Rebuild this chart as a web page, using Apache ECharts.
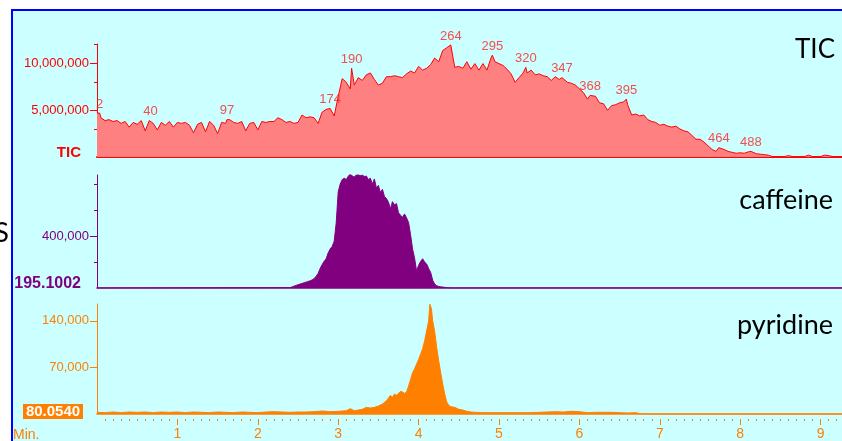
<!DOCTYPE html>
<html><head><meta charset="utf-8">
<script src="https://cdn.jsdelivr.net/npm/echarts@6/dist/echarts.min.js"></script>
<style>html,body{margin:0;padding:0;background:#fff}#c{width:842px;height:441px}</style>
</head><body><div id="c"></div>
<script>
// ---- data ----
// TIC, millions of counts, sampled every 0.05 min starting at 0 min
const ticStart = 0, ticStep = 0.05;
const ticValues = [
 4.7,4.2,3.9,4.0,3.8,3.9,3.6,3.8,3.2,3.7,3.5,3.9,2.8,3.9,3.6,2.9,3.7,3.4,3.8,3.2,
 3.7,3.6,3.7,3.4,2.6,3.5,3.7,2.7,3.8,3.4,2.5,3.7,3.6,4.0,3.7,3.6,3.8,2.8,3.6,3.7,
 2.9,3.8,3.7,3.8,3.8,4.2,4.0,3.7,3.8,3.6,3.7,4.5,4.2,4.3,4.2,3.6,4.8,5.1,5.2,4.4,
 6.5,8.4,8.0,7.3,7.7,8.5,8.2,8.8,9.0,8.3,7.7,7.9,8.6,8.6,8.7,8.6,8.5,8.9,9.2,9.0,
 9.7,9.3,9.5,9.9,10.6,10.2,11.4,11.7,12.0,9.6,9.7,9.5,10.2,9.4,10.0,9.3,10.0,9.3,10.6,10.2,
 10.0,9.8,9.4,8.9,8.0,8.5,9.0,9.0,9.3,8.8,8.9,8.7,8.6,8.2,8.6,8.3,8.3,8.0,7.9,7.7,
 7.3,6.9,6.2,6.4,6.5,5.8,5.7,5.0,5.5,5.6,5.8,5.9,5.6,4.5,4.6,4.4,4.5,4.0,3.8,3.7,
 3.4,3.5,3.3,3.2,3.3,3.0,2.8,2.7,2.3,1.9,1.9,1.6,1.2,0.8,0.6,0.9,0.8,0.6,0.5,0.4,
 0.45,0.4,0.55,0.5,0.35,0.3,0.25,0.2,0.05,0.05,0.05,0.05,0.15,0.05,0.05,0.05,0.05,0.2,0.05,0.05,
 0.05,0.2,0.15,0.05,0.05,0.05
];
// labelled TIC peaks: scan number and height (millions); 60 scans per minute
const scansPerMin = 60;
const peakScans  = [2, 40, 97, 174, 190, 264, 295, 320, 347, 368, 395, 464, 488];
const peakValues = [4.7,3.9,4.0,5.2,9.5,12.0,10.9,9.6,8.5,6.6,6.2,1.0,0.6];
// caffeine (m/z 195.1002), thousands of counts, every 0.025 min from 2.40 min
const cafStart = 2.4, cafStep = 0.025;
const cafValues = [
 3,8,14,20,25,30,35,40,45,50,
 55,62,72,90,112,150,180,205,225,270,
 300,320,360,500,740,800,835,845,835,860,
 878,862,855,870,872,866,870,858,862,835,
 845,800,840,770,790,735,760,705,690,660,
 610,665,640,650,580,560,545,570,540,505,
 410,300,230,130,175,205,225,200,185,150,
 120,60,30,18,12,9,7,5,3,1,
 0
];
// pyridine (m/z 80.0540): [minutes, thousands of counts]
const pyrPoints = [
 [0,2.5],[0.1,2],[0.2,3],[0.3,2],[0.4,3],[0.5,2.5],[0.6,3],[0.7,2],[0.8,3],[0.9,2.5],
 [1.0,3],[1.1,2],[1.2,3],[1.3,2.5],[1.4,2],[1.5,3],[1.6,2.5],[1.7,2],[1.8,3],[1.9,2.5],
 [2.0,2],[2.1,3],[2.2,3.5],[2.3,3],[2.4,2.5],[2.5,3],[2.6,3],[2.7,3.5],[2.8,4.5],[2.9,3.5],
 [3.0,4],[3.1,5],[3.15,8],[3.2,5],[3.25,6],[3.3,7],[3.35,10],[3.4,9],[3.45,10],[3.5,12],
 [3.55,15],[3.6,20],[3.625,24],[3.65,28],[3.675,25],[3.7,30],[3.725,28],[3.75,31],[3.775,34],[3.8,33],
 [3.825,31],[3.85,33],[3.875,42],[3.9,52],[3.925,62],[3.95,68],[3.975,75],[4.0,82],[4.025,90],[4.05,98],
 [4.075,110],[4.1,125],[4.125,140],[4.14,165],[4.16,158],[4.175,140],[4.2,124],[4.225,100],[4.25,80],[4.275,62],
 [4.3,45],[4.325,30],[4.35,18],[4.375,13],[4.4,11],[4.45,10],[4.5,7],[4.55,6],[4.6,4],[4.65,3],
 [4.7,2.5],[4.8,2],[4.9,2],[5.0,2],[5.1,2],[5.2,2],[5.3,2],[5.4,2],[5.5,2.5],[5.6,3],
 [5.7,3.5],[5.8,3],[5.9,4],[6.0,3.5],[6.1,2],[6.2,2.5],[6.3,2.5],[6.4,2.5],[6.5,2],[6.6,1.5],
 [6.7,2],[6.75,0.5],[6.8,0]
];
const timeLabels = [1,2,3,4,5,6,7,8,9];
const ticTicks = [5e6, 10e6], ticMinorTicks = [3e6, 8e6, 12.05e6];
const cafTicks = [400000], cafMinorTicks = [200000, 600000, 800000];
const pyrTicks = [70000, 140000];

// ---- build ----
const XMAX = 9.266;
const RED = '#FF0000', PURPLE = '#800080', ORANGE = '#FF8000';
let ticData = ticValues.map((v, i) => [ticStart + i * ticStep, v * 1e6]);
const peakData = peakScans.map((s, i) => [s / scansPerMin, peakValues[i] * 1e6, s]);
ticData = ticData.concat(peakData.map(p => [p[0], p[1]])).sort((a, b) => a[0] - b[0]);
const cafData = [[0, 0]].concat(cafValues.map((v, i) => [cafStart + i * cafStep, v * 1000]), [[XMAX, 0]]);
const pyrData = pyrPoints.map(p => [p[0], p[1] * 1000]).concat([[XMAX, 0]]);
const minorX = [];
for (let k = 1; k < 93; k++) { if (k % 10) minorX.push(k / 10); }
const fmt = v => Math.round(v).toLocaleString('en-US');
const FONT = 'Liberation Sans';

function yMain(grid, max, ticks, color) {
  return {type:'value', gridIndex:grid, position:'left', min:0, max:max, splitLine:{show:false},
    axisLine:{show:true, lineStyle:{color:color, width:1}},
    axisTick:{show:true, customValues:ticks, length:7, lineStyle:{color:color}},
    axisLabel:{show:true, customValues:ticks, formatter:fmt, color:color, fontSize:13, fontFamily:FONT, margin:8}};
}
function yMinor(grid, max, ticks, color) {
  return {type:'value', gridIndex:grid, position:'left', min:0, max:max, splitLine:{show:false},
    axisLine:{show:false}, axisLabel:{show:false},
    axisTick:{show:true, customValues:ticks, length:3, lineStyle:{color:color}}};
}
function xBase(grid, color, w) {
  return {type:'value', gridIndex:grid, position:'bottom', min:0, max:XMAX, splitLine:{show:false},
    axisLine:{show:true, onZero:false, lineStyle:{color:color, width:w}}, axisTick:{show:false}, axisLabel:{show:false}};
}

const option = {
  animation:false,
  backgroundColor:'#ffffff',
  grid:[
    {left:97, right:0, top:44, height:113},
    {left:97, right:0, top:175, height:113},
    {left:97, right:0, top:304, height:111}
  ],
  xAxis:[
    xBase(0, RED, 2),
    xBase(1, PURPLE, 1.5),
    xBase(2, ORANGE, 1.5),
    {type:'value', gridIndex:2, position:'bottom', min:0, max:XMAX, offset:5, splitLine:{show:false},
      axisLine:{show:false, onZero:false},
      axisTick:{show:true, customValues:timeLabels, length:6, lineStyle:{color:ORANGE}},
      axisLabel:{show:true, customValues:timeLabels, color:ORANGE, fontSize:14, fontFamily:FONT, margin:8}},
    {type:'value', gridIndex:2, position:'bottom', min:0, max:XMAX, offset:5, splitLine:{show:false},
      axisLine:{show:false, onZero:false}, axisLabel:{show:false},
      axisTick:{show:true, customValues:minorX, length:2, lineStyle:{color:ORANGE}}}
  ],
  yAxis:[
    yMain(0, 12.1e6, ticTicks, RED),
    yMinor(0, 12.1e6, ticMinorTicks, RED),
    yMain(1, 870000, cafTicks, PURPLE),
    yMinor(1, 870000, cafMinorTicks, PURPLE),
    yMain(2, 165300, pyrTicks, ORANGE)
  ],
  series:[
    {type:'line', name:'TIC', xAxisIndex:0, yAxisIndex:0, data:ticData, symbol:'none',
      lineStyle:{color:RED, width:1}, areaStyle:{color:'#FF8080', opacity:1}, z:2},
    {type:'scatter', xAxisIndex:0, yAxisIndex:0, data:peakData, symbolSize:1,
      itemStyle:{color:'rgba(0,0,0,0)'}, silent:true, z:5,
      label:{show:true, position:'top', distance:2, color:'#FF2020', fontSize:13, fontFamily:FONT,
        formatter:p => String(p.value[2])}},
    {type:'line', name:'caffeine', xAxisIndex:1, yAxisIndex:2, data:cafData, symbol:'none',
      lineStyle:{color:PURPLE, width:1}, areaStyle:{color:PURPLE, opacity:1}, z:2},
    {type:'line', name:'pyridine', xAxisIndex:2, yAxisIndex:4, data:pyrData, symbol:'none',
      lineStyle:{color:ORANGE, width:1}, areaStyle:{color:ORANGE, opacity:1}, z:2}
  ],
  graphic:[
    {type:'rect', z:-10, shape:{x:12, y:10, width:850, height:450},
      style:{fill:'#CCFFFF', stroke:'#0000FF', lineWidth:2}},
    {type:'text', x:9, y:233, z:1, style:{text:'S', font:'27px Lato', fill:'#000', align:'right', verticalAlign:'middle'}},
    {type:'text', x:835, y:50, z:1, style:{text:'TIC', font:'26px Lato', fill:'#000', align:'right', verticalAlign:'middle'}},
    {type:'text', x:833, y:200, z:1, style:{text:'caffeine', font:'27px Lato', fill:'#000', align:'right', verticalAlign:'middle'}},
    {type:'text', x:833, y:325, z:1, style:{text:'pyridine', font:'27px Lato', fill:'#000', align:'right', verticalAlign:'middle'}},
    {type:'text', x:81, y:152.5, z:1, style:{text:'TIC', font:'bold 15px "Liberation Sans"', fill:RED, align:'right', verticalAlign:'middle'}},
    {type:'text', x:81, y:283.5, z:1, style:{text:'195.1002', font:'bold 16px "Liberation Sans"', fill:PURPLE, align:'right', verticalAlign:'middle'}},
    {type:'rect', z:1, shape:{x:23, y:404, width:60, height:15}, style:{fill:ORANGE}},
    {type:'text', x:53, y:411.8, z:2, style:{text:'80.0540', font:'bold 15px "Liberation Sans"', fill:'#fff', align:'center', verticalAlign:'middle'}},
    {type:'text', x:13, y:428, z:1, style:{text:'Min.', font:'14px "Liberation Sans"', fill:ORANGE, align:'left', verticalAlign:'top'}}
  ]
};
const chart = echarts.init(document.getElementById('c'));
chart.setOption(option);
</script></body></html>
